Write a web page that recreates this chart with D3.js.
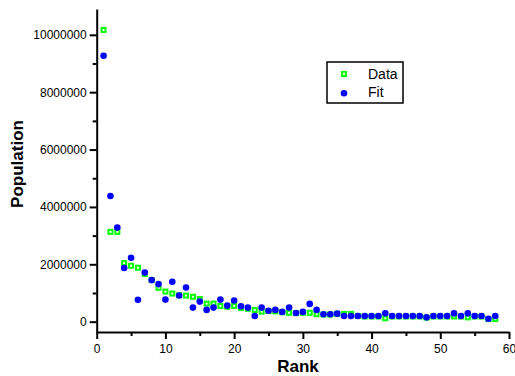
<!DOCTYPE html>
<html>
<head>
<meta charset="utf-8">
<script src="https://cdn.jsdelivr.net/npm/d3@7"></script>
<style>
  body { margin: 0; background: #fff; }
  svg { display: block; font-family: "Liberation Sans", Arial, sans-serif; }
</style>
</head>
<body>
<svg id="chart" width="515" height="376"></svg>
<script>
// rank of each city
var ranks = [1, 2, 3, 4, 5, 6, 7, 8, 9, 10, 11, 12, 13, 14, 15, 16, 17, 18, 19, 20,
             21, 22, 23, 24, 25, 26, 27, 28, 29, 30, 31, 32, 33, 34, 35, 36, 37, 38, 39, 40,
             41, 42, 43, 44, 45, 46, 47, 48, 49, 50, 51, 52, 53, 54, 55, 56, 57, 58];

var dataPop = [10170000, 3130000, 3130000, 2040000, 1950000, 1880000, 1660000, 1450000, 1180000, 1050000,
               980000, 920000, 910000, 870000, 790000, 630000, 630000, 550000, 520000, 550000,
               480000, 450000, 410000, 350000, 370000, 360000, 330000, 310000, 300000, 310000,
               310000, 260000, 250000, 250000, 270000, 270000, 270000, 200000, 180000, 180000,
               180000, 120000, 180000, 180000, 180000, 180000, 180000, 140000, 180000, 180000,
               180000, 180000, 180000, 150000, 180000, 180000, 90000, 90000];

var fitPop = [9270000, 4380000, 3280000, 1870000, 2230000, 760000, 1710000, 1450000, 1310000, 770000,
              1390000, 910000, 1190000, 490000, 700000, 410000, 490000, 770000, 560000, 740000,
              540000, 490000, 200000, 490000, 380000, 410000, 340000, 490000, 300000, 340000,
              620000, 410000, 260000, 260000, 280000, 200000, 200000, 200000, 200000, 200000,
              200000, 290000, 200000, 200000, 200000, 200000, 200000, 150000, 200000, 200000,
              200000, 290000, 200000, 290000, 200000, 200000, 100000, 200000];

var xTicks = [0, 10, 20, 30, 40, 50, 60];
var xMinor = [5, 15, 25, 35, 45, 55];
var yTicks = [0, 2000000, 4000000, 6000000, 8000000, 10000000];
var yMinor = [1000000, 3000000, 5000000, 7000000, 9000000];

var svg = d3.select("#chart");

var x = d3.scaleLinear().domain([0, 60]).range([96.7, 509]);
var y = d3.scaleLinear().domain([-360000, 10900000]).range([332, 9]);

// minor ticks first, no labels
svg.append("g")
    .attr("transform", "translate(0,332)")
    .call(d3.axisBottom(x).tickValues(xMinor).tickSize(4).tickFormat("").tickSizeOuter(0))
    .call(g => g.select(".domain").remove())
    .selectAll("line").attr("stroke-width", 2);

svg.append("g")
    .attr("transform", "translate(96.7,0)")
    .call(d3.axisLeft(y).tickValues(yMinor).tickSize(4).tickFormat("").tickSizeOuter(0))
    .call(g => g.select(".domain").remove())
    .selectAll("line").attr("stroke-width", 2);

var xAxis = svg.append("g")
    .attr("transform", "translate(0,332)")
    .call(d3.axisBottom(x).tickValues(xTicks).tickSize(7).tickPadding(5).tickSizeOuter(0));
xAxis.select(".domain").attr("stroke-width", 2);
xAxis.selectAll("line").attr("stroke-width", 2);
xAxis.selectAll("text").attr("font-size", 12).attr("font-family", "Liberation Sans, Arial").attr("fill", "#000");

var yAxis = svg.append("g")
    .attr("transform", "translate(96.7,0)")
    .call(d3.axisLeft(y).tickValues(yTicks).tickFormat(d3.format("d")).tickSize(7).tickPadding(3).tickSizeOuter(0));
yAxis.select(".domain").attr("stroke-width", 2);
yAxis.selectAll("line").attr("stroke-width", 2);
yAxis.selectAll("text").attr("font-size", 12).attr("font-family", "Liberation Sans, Arial").attr("fill", "#000");

// axis titles
svg.append("text")
    .attr("x", 298).attr("y", 372)
    .attr("text-anchor", "middle")
    .attr("font-weight", "bold").attr("font-size", 17)
    .text("Rank");

svg.append("text")
    .attr("transform", "translate(23,164) rotate(-90)")
    .attr("text-anchor", "middle")
    .attr("font-weight", "bold").attr("font-size", 17)
    .text("Population");

// data squares
svg.append("g").selectAll("rect")
    .data(ranks)
    .join("rect")
    .attr("x", (d, i) => x(d) - 2)
    .attr("y", (d, i) => y(dataPop[i]) - 2)
    .attr("width", 4).attr("height", 4)
    .attr("fill", "#fff")
    .attr("stroke", "#00ff00")
    .attr("stroke-width", 2);

// fit circles
svg.append("g").selectAll("circle")
    .data(ranks)
    .join("circle")
    .attr("cx", d => x(d))
    .attr("cy", (d, i) => y(fitPop[i]))
    .attr("r", 3.3)
    .attr("fill", "#0000ff");

// legend
var legend = svg.append("g");
legend.append("rect")
    .attr("x", 327).attr("y", 62)
    .attr("width", 76).attr("height", 41)
    .attr("fill", "#fff").attr("stroke", "#000").attr("stroke-width", 1.5);
legend.append("rect")
    .attr("x", 342).attr("y", 72).attr("width", 4).attr("height", 4)
    .attr("fill", "#fff").attr("stroke", "#00ff00").attr("stroke-width", 2);
legend.append("circle")
    .attr("cx", 344).attr("cy", 93.3).attr("r", 3.3)
    .attr("fill", "#0000ff");
legend.append("text")
    .attr("x", 368).attr("y", 79)
    .attr("font-size", 14).text("Data");
legend.append("text")
    .attr("x", 368).attr("y", 97)
    .attr("font-size", 14).text("Fit");
</script>
</body>
</html>
